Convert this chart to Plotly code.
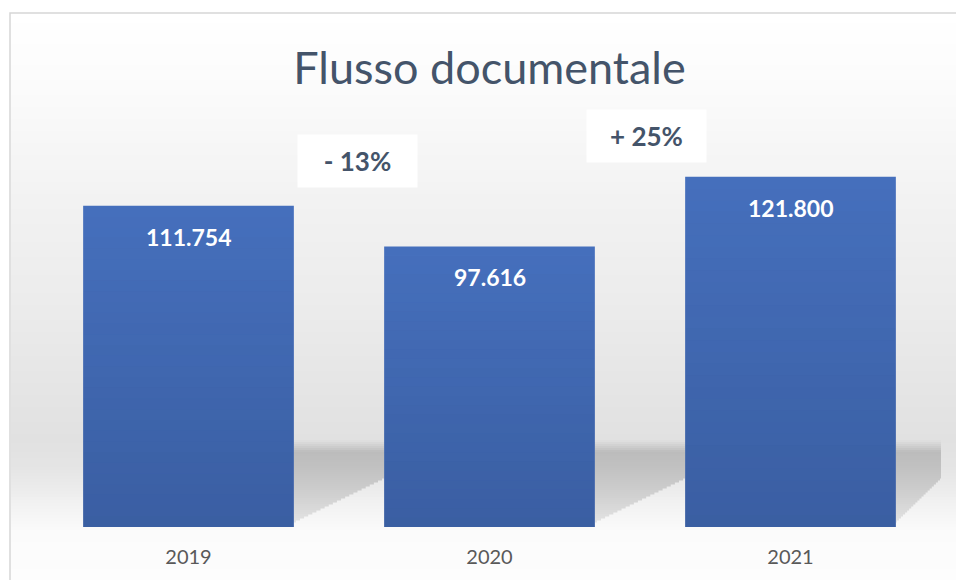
import plotly.graph_objects as go

# ---- data ----
years = ["2019", "2020", "2021"]
values = [111754, 97616, 121800]
title_text = "Flusso documentale"

# ---- layout geometry ----
W_FIG, H_FIG = 956, 580
L, R, T, B = 38, 15, 13, 53
PW = W_FIG - L - R
PH = H_FIG - T - B
BASE = H_FIG - B
YMAX = 178800
BAR_W = 0.70

BAR_COLOR = "#4670BD"
TEXT_DARK = "#44546A"
FONT = "Lato, 'Open Sans', sans-serif"


def px_x(px):
    return (px - L) / PW


def px_y(py):
    return (BASE - py) / PH


def interp(y, pts):
    if y <= pts[0][0]:
        return pts[0][1]
    for (y0, v0), (y1, v1) in zip(pts[:-1], pts[1:]):
        if y0 <= y <= y1:
            return v0 + (v1 - v0) * (y - y0) / (y1 - y0)
    return pts[-1][1]


def gray(v):
    v = int(round(max(0, min(255, v))))
    return f"rgb({v},{v},{v})"


bg_pts = [(14, 255), (75, 252), (200, 242), (300, 236), (440, 225),
          (470, 229), (505, 242), (530, 251), (580, 253)]

shapes = []
# panel background gradient
step = 3
y = 14
while y < H_FIG:
    shapes.append(dict(type="rect", xref="paper", yref="paper",
                       x0=px_x(11), x1=px_x(W_FIG + 2),
                       y0=px_y(y + step + 0.5), y1=px_y(y),
                       fillcolor=gray(interp(y + step / 2, bg_pts)),
                       line=dict(width=0), layer="below"))
    y += step

# shadows behind the bars (to the right of each bar)
sh_pts = [(440, 0.0), (452, 1.0), (470, 0.85), (495, 0.6), (522, 0.35)]
for i in range(len(values)):
    xa = i + BAR_W / 2
    xb = (i + 1 - BAR_W / 2) if i < len(values) - 1 else len(values) - 0.5
    y = 440
    while y < 522:
        yc = y + 1
        if yc <= 478:
            xe = xb
        else:
            xe = xa + (522 - yc) / (522 - 478) * (xb - xa)
        s = interp(yc, sh_pts)
        bgv = interp(yc, bg_pts)
        col = bgv + (188 - bgv) * s
        shapes.append(dict(type="rect", xref="x", yref="paper",
                           x0=xa, x1=xe, y0=px_y(y + 2.5), y1=px_y(y),
                           fillcolor=gray(col), line=dict(width=0),
                           layer="below"))
        y += 2

# subtle vertical shading over each bar (darker toward the base)
NS = 30
for i, v in enumerate(values):
    for j in range(NS):
        a = 0.19 * (1 - (j + 0.5) / NS)
        shapes.append(dict(type="rect", xref="x", yref="y",
                           x0=i - BAR_W / 2, x1=i + BAR_W / 2,
                           y0=v * j / NS, y1=v * (j + 1) / NS,
                           fillcolor=f"rgba(10,20,50,{a:.3f})",
                           line=dict(width=0), layer="above"))

# outer frame
shapes.append(dict(type="rect", xref="paper", yref="paper",
                   x0=px_x(10), x1=px_x(W_FIG + 5),
                   y0=px_y(H_FIG + 5), y1=px_y(13),
                   line=dict(color="#D6D6D6", width=1.5),
                   fillcolor="rgba(0,0,0,0)", layer="above"))

fig = go.Figure()
fig.add_trace(go.Bar(x=years, y=values, width=BAR_W,
                     marker=dict(color=BAR_COLOR, line=dict(width=0)),
                     hoverinfo="x+y"))

annotations = []
# value labels inside the bars
for i, v in enumerate(values):
    annotations.append(dict(x=i, y=v, xref="x", yref="y",
                            xanchor="center", yanchor="middle",
                            text=f"{v:,}".replace(",", "."),
                            showarrow=False, yshift=-31,
                            font=dict(family=FONT, size=23, color="white",
                                      weight="bold")))

# year-over-year change boxes
box_pos = [(0.5, 18, 0.712), (1.5, 6, 0.761)]
for k in range(1, len(values)):
    pct = round((values[k] - values[k - 1]) / values[k - 1] * 100)
    txt = f"- {abs(pct)}%" if pct < 0 else f"+ {pct}%"
    xc, xs, yp = box_pos[k - 1]
    annotations.append(dict(x=xc, y=yp, xref="x", yref="paper",
                            xanchor="center", yanchor="middle",
                            text=txt, showarrow=False, xshift=xs,
                            width=119, height=52, borderpad=0,
                            bgcolor="white", align="center", valign="middle",
                            font=dict(family=FONT, size=26, color=TEXT_DARK,
                                      weight="bold")))

fig.update_layout(
    width=W_FIG, height=H_FIG,
    margin=dict(l=L, r=R, t=T, b=B),
    paper_bgcolor="white", plot_bgcolor="rgba(0,0,0,0)",
    separators=",.",
    showlegend=False,
    title=dict(text=title_text, x=0.5, xref="paper", xanchor="center",
               y=1 - 68 / H_FIG, yref="container", yanchor="middle",
               font=dict(family=FONT, size=45, color=TEXT_DARK)),
    xaxis=dict(type="category", range=[-0.5, len(years) - 0.5],
               showgrid=False, zeroline=False, showline=False,
               ticks="", ticklabelstandoff=16,
               tickfont=dict(family=FONT, size=20, color="#595959")),
    yaxis=dict(range=[0, YMAX], visible=False, showgrid=False,
               zeroline=False),
    shapes=shapes,
    annotations=annotations,
)

fig.write_html("out.html",
               config={"displayModeBar": False},
               post_script="document.body.style.margin='0';"
                           "document.body.style.padding='0';")
